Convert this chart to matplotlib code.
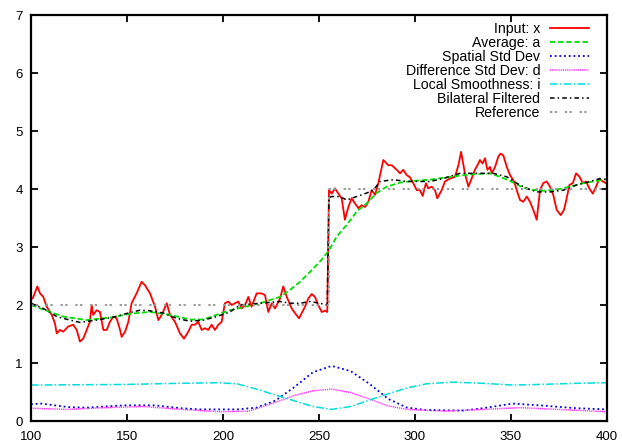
import matplotlib
matplotlib.use("Agg")
import matplotlib.pyplot as plt

plt.rcParams['font.family'] = ['Liberation Sans', 'DejaVu Sans']

# ---- data ----
input_x = [99.5, 101, 103.3, 104.7, 106.4, 108.2, 110.8, 112.5, 113.4, 115.1, 116.8, 119.4, 122, 123.8,
           125.5, 127.2, 129, 130.7, 131.6, 132.4, 134.2, 135.9, 137.7, 139.4, 141.1, 142.9, 144.6,
           146.4, 147.2, 149, 150.7, 152.4, 155, 157.6, 159.4, 162, 164.6, 166.3, 168.1, 170.7, 172.4,
           175, 177.6, 179.7, 181.9, 183.7, 185.4, 187.1, 188.9, 190.6, 192.3, 194.1, 195.8, 197.6,
           199.3, 201, 202.8, 204.5, 206.3, 208, 209.7, 211.5, 213.2, 214.9, 217.5, 220.1, 221.9,
           223.6, 225.4, 227.1, 229.7, 231.4, 233.2, 235.8, 237.5, 239.6, 241, 242.7, 244.4, 246.2,
           247.9, 249.6, 251.4, 253.1, 254.3, 255.2, 256.6, 258.3, 260.1, 261.8, 263.5, 265.3, 267,
           268.8, 270.5, 272.2, 274, 275.7, 277.4, 279.2, 280.9, 283.5, 286.1, 287.9, 290.5, 292.2,
           293.9, 295.7, 297.4, 299.1, 300.9, 302.6, 304, 305.7, 306.9, 308.7, 310.4, 311.6, 313.9,
           315.6, 318.2, 320.8, 322.6, 324, 326, 327.8, 329.5, 331.2, 333, 333.8, 335.2, 336.5, 337.7,
           339.1, 340, 341.7, 343.4, 344.6, 346, 347.8, 349.5, 351.6, 353, 354.7, 356.4, 358.2, 359.9,
           361.6, 363.4, 365.1, 366.8, 368.6, 370.3, 372, 373.8, 375.9, 377.6, 379, 380.4, 382.2,
           383.9, 385.7, 387.4, 389.1, 390.8, 392.6, 394.3, 396, 397.8, 399.5]
input_y = [2.09, 2.12, 2.32, 2.20, 2.14, 1.97, 1.83, 1.68, 1.51, 1.57, 1.54, 1.63, 1.66, 1.57,
           1.37, 1.42, 1.57, 1.71, 2.00, 1.83, 1.91, 1.88, 1.57, 1.57, 1.71, 1.80, 1.77,
           1.57, 1.45, 1.54, 1.71, 2.03, 2.20, 2.40, 2.34, 2.20, 1.97, 1.74, 1.83, 2.03, 1.83,
           1.71, 1.51, 1.42, 1.54, 1.66, 1.66, 1.71, 1.57, 1.60, 1.57, 1.66, 1.57, 1.66,
           1.71, 2.03, 2.06, 2.00, 2.03, 2.06, 1.94, 2.00, 2.14, 1.97, 2.20, 2.20, 2.17,
           1.88, 2.03, 1.94, 2.11, 2.32, 2.14, 1.94, 1.86, 1.77, 1.86, 1.97, 2.11, 2.19,
           2.14, 2.00, 1.88, 1.90, 1.88, 3.98, 3.92, 4.01, 3.92, 3.84, 3.47, 3.69, 3.84,
           3.75, 3.67, 3.72, 3.69, 3.78, 3.98, 3.90, 4.10, 4.50, 4.41, 4.41, 4.33, 4.27,
           4.33, 4.24, 4.20, 4.10, 3.98, 3.98, 3.88, 4.10, 4.01, 4.04, 3.98, 3.84, 3.98,
           4.13, 4.18, 4.21, 4.41, 4.64, 4.27, 4.04, 4.18, 4.33, 4.44, 4.50, 4.44, 4.53, 4.33,
           4.38, 4.27, 4.38, 4.56, 4.61, 4.58, 4.38, 4.24, 4.13, 3.98, 3.81, 3.78, 3.87, 3.78,
           3.64, 3.47, 3.98, 4.10, 4.13, 4.04, 3.90, 3.64, 3.55, 3.64, 3.84, 4.07, 4.10,
           4.27, 4.21, 4.10, 4.13, 4.01, 3.92, 4.04, 4.18, 4.13, 4.10]

avg_x = [100, 109.9, 116.8, 129, 142.9, 151.6, 162, 172.4, 182.8, 189.8, 196.7, 203.6, 208.9, 219.3,
         229.7, 234.9, 240.1, 245.3, 250.5, 254.8, 259.2, 264.4, 269.6, 274.8, 280, 285.3, 292.2,
         299.1, 307.8, 318.2, 328.6, 339, 344.3, 349.5, 354.7, 359.9, 366.8, 373.8, 380.7, 387.6,
         394.6, 400]
avg_y = [2.00, 1.88, 1.80, 1.74, 1.79, 1.85, 1.88, 1.83, 1.75, 1.75, 1.83, 1.91, 1.95, 2.03,
         2.14, 2.26, 2.40, 2.57, 2.75, 2.92, 3.18, 3.38, 3.61, 3.75, 3.93, 4.04, 4.11,
         4.14, 4.16, 4.21, 4.25, 4.27, 4.21, 4.14, 4.05, 3.99, 3.97, 3.99, 4.04, 4.10,
         4.14, 4.17]

std_x = [100, 105.4, 119.2, 129, 148.6, 164.3, 178, 187.9, 207.5, 217.4, 227.2, 237, 246.8, 256.6,
         266.5, 276.3, 286.1, 295.9, 305.7, 325.4, 335.2, 350.9, 364.7, 384.3, 400]
std_y = [0.29, 0.30, 0.24, 0.23, 0.27, 0.27, 0.22, 0.20, 0.20, 0.23, 0.35, 0.58, 0.84, 0.95,
         0.86, 0.64, 0.38, 0.23, 0.19, 0.18, 0.22, 0.30, 0.27, 0.22, 0.20]

diff_x = [100, 119.2, 138.8, 158.4, 178, 197.7, 213.4, 227.2, 237, 246.8, 256.6, 266.5, 276.3,
          286.1, 295.9, 315.6, 335.2, 354.9, 374.5, 400]
diff_y = [0.22, 0.20, 0.23, 0.25, 0.20, 0.16, 0.17, 0.32, 0.44, 0.52, 0.55, 0.49, 0.38,
          0.26, 0.20, 0.17, 0.20, 0.23, 0.20, 0.16]

smooth_x = [100, 148.6, 178, 197.7, 207.5, 217.4, 227.2, 237, 246.8, 256.6, 266.5, 276.3, 286.1,
            295.9, 305.7, 319.5, 335.2, 350.9, 364.7, 384.3, 400]
smooth_y = [0.62, 0.63, 0.65, 0.66, 0.64, 0.55, 0.45, 0.35, 0.25, 0.20, 0.25, 0.36, 0.47,
            0.57, 0.64, 0.67, 0.65, 0.62, 0.63, 0.65, 0.66]

bil_x = [100, 106.4, 113.4, 120.3, 125.5, 134.2, 142.9, 151.6, 156.8, 162, 169, 175.9, 182.8,
         189.8, 196.7, 203.6, 208.9, 219.3, 229.7, 234.9, 240.1, 245.3, 250.5, 254.3, 255.2,
         256.6, 260.9, 264.4, 269.6, 274.8, 278.3, 281.8, 288.7, 295.7, 307.8, 314.7, 323.4,
         332.1, 340.8, 347.8, 353, 358.2, 363.4, 370.3, 377.3, 384.2, 391.2, 396.4, 400]
bil_y = [2.03, 1.94, 1.80, 1.74, 1.70, 1.74, 1.79, 1.87, 1.91, 1.90, 1.86, 1.77, 1.72,
         1.74, 1.80, 1.88, 2.00, 2.03, 2.06, 2.03, 2.03, 2.06, 2.03, 2.00, 3.85,
         3.87, 3.87, 3.81, 3.87, 3.93, 3.98, 4.13, 4.16, 4.13, 4.13, 4.18, 4.27,
         4.27, 4.27, 4.21, 4.10, 4.01, 3.95, 3.95, 3.98, 4.07, 4.13, 4.18, 4.16]

ref_x = [100, 255, 255, 400]
ref_y = [2, 2, 4, 4]

labels = ["Input: x", "Average: a", "Spatial Std Dev", "Difference Std Dev: d",
          "Local Smoothness: i", "Bilateral Filtered", "Reference"]
x_ticks = [100, 150, 200, 250, 300, 350, 400]
y_ticks = [0, 1, 2, 3, 4, 5, 6, 7]

# ---- figure ----
fig = plt.figure(figsize=(6.22, 4.47), dpi=100)
ax = fig.add_axes([31 / 622, 26 / 447, 576 / 622, 406 / 447])

ax.plot(input_x, input_y, color='#ff0000', lw=1.3, label=labels[0])
ax.plot(avg_x, avg_y, color='#00dd00', lw=1.3, dashes=(3, 1.5), label=labels[1])
ax.plot(std_x, std_y, color='#0000ee', lw=1.3, dashes=(1, 1.6), label=labels[2])
ax.plot(diff_x, diff_y, color='#ff33ff', lw=1.1, dashes=(0.8, 0.6), label=labels[3])
ax.plot(smooth_x, smooth_y, color='#00dddd', lw=1.1, dashes=(5, 1.5, 1, 1.5), label=labels[4])
ax.plot(bil_x, bil_y, color='#000000', lw=1.1, dashes=(3, 2, 1, 2), label=labels[5])
ax.plot(ref_x, ref_y, color='#999999', lw=1.4, dashes=(1.2, 1.2, 1.2, 4), label=labels[6])

ax.set_xlim(100, 400)
ax.set_ylim(0, 7)
ax.set_xticks(x_ticks)
ax.set_yticks(y_ticks)
ax.tick_params(direction='in', length=5, width=1.3, top=True, right=True,
               labelsize=9.5, pad=6)
ax.tick_params(axis='x', pad=7)
for s in ax.spines.values():
    s.set_linewidth(1.6)

leg = ax.legend(loc='upper right', bbox_to_anchor=(0.969, 0.982), frameon=False,
                markerfirst=False, fontsize=10.2, handlelength=2.75, handletextpad=0.7,
                labelspacing=0.0, borderaxespad=0, borderpad=0)

fig.savefig('out.png', dpi=100)
